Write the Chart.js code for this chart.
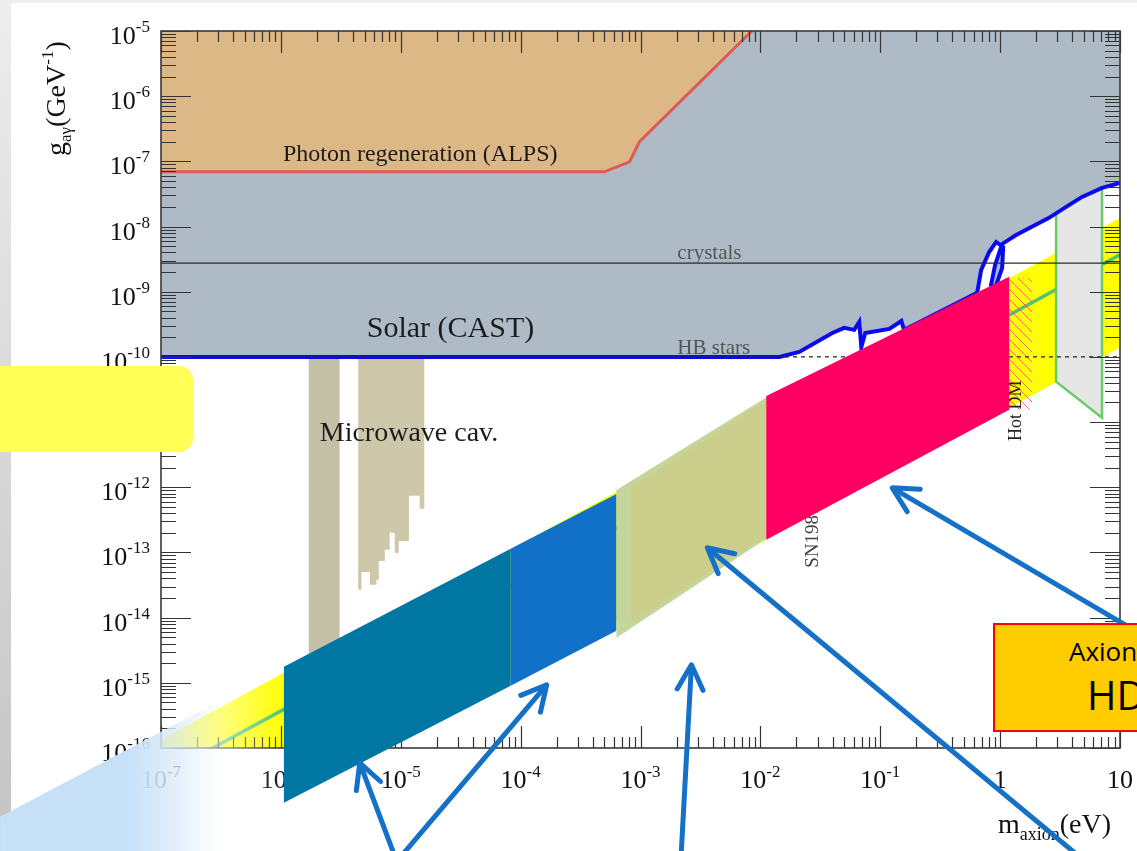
<!DOCTYPE html>
<html>
<head>
<meta charset="utf-8">
<title>Axion coupling limits</title>
<script src="https://cdn.jsdelivr.net/npm/chart.js@4.4.1/dist/chart.umd.min.js"></script>
<style>
  html, body { margin: 0; padding: 0; background: #fff; overflow: hidden; }
  #slide { position: relative; width: 1137px; height: 851px; overflow: hidden; background: #fff; }
  #edgeTop { position: absolute; left: 0; top: 0; width: 1137px; height: 3px; background: #efefef; }
  #edgeLeft { position: absolute; left: 0; top: 0; width: 11px; height: 851px; background: linear-gradient(#ededed, #c4c4c4); }
  canvas { position: absolute; left: 0; top: 0; }
  #noteBox { position: absolute; left: -20px; top: 366px; width: 213px; height: 86px; background: #ffff55; border-radius: 14px; }
  #axionBox { position: absolute; left: 993px; top: 623px; width: 240px; height: 105px; background: #ffcc00; border: 2px solid #ff0000;
              font-family: "Open Sans", sans-serif; color: #000; line-height: 1; }
  #axionBox span { position: absolute; white-space: nowrap; }
  #axionBox .l1 { left: 74px; top: 13px; font-size: 26px; }
  #axionBox .l2 { left: 92px; top: 50px; font-size: 40px; }
</style>
</head>
<body>
<div id="slide">
  <div id="edgeTop"></div>
  <div id="edgeLeft"></div>
  <canvas id="plot" width="1137" height="851"></canvas>
  <canvas id="overlay" width="1137" height="851"></canvas>
  <div id="noteBox"></div>
  <div id="axionBox"><span class="l1">Axion</span><span class="l2">HD</span></div>
</div>
<script>
// ---------- axes ----------
const massMin = 1e-7, massMax = 10;          // m_axion (eV)
const couplingMin = 1e-16, couplingMax = 1e-5; // g_a-gamma (GeV^-1)
const massTickValues = [1e-7, 1e-6, 1e-5, 1e-4, 1e-3, 1e-2, 1e-1, 1, 10];
const massTickLabels = ['10^-7', '10^-6', '10^-5', '10^-4', '10^-3', '10^-2', '10^-1', '1', '10'];
const couplingTickValues = [1e-5, 1e-6, 1e-7, 1e-8, 1e-9, 1e-10, 1e-11, 1e-12, 1e-13, 1e-14, 1e-15, 1e-16];
const couplingTickLabels = ['10^-5', '10^-6', '10^-7', '10^-8', '10^-9', '10^-10', '10^-11', '10^-12', '10^-13', '10^-14', '10^-15', '10^-16'];

// ---------- exclusion regions ----------
// photon regeneration (ALPS) lower edge
const alpsMass = [1e-7, 5.0e-4, 8.1e-4, 9.8e-4, 8.5e-3];
const alpsCoupling = [6.9e-8, 6.9e-8, 9.8e-8, 2.0e-7, 1e-5];

// solar (CAST) lower edge
const castMass = [1e-7, 1.44e-2, 2.11e-2, 3.98e-2, 5.0e-2, 6.07e-2, 6.68e-2, 6.95e-2, 7.5e-2, 0.119, 0.15, 0.158, 0.192,
                  0.643, 0.695, 0.81, 0.926, 1.06, 1.04, 0.908, 0.84, 0.908, 1.04, 1.36, 2.56, 3.55, 4.82, 7.08, 10];
const castCoupling = [1e-10, 1e-10, 1.19e-10, 2.33e-10, 2.79e-10, 2.6e-10, 3.44e-10, 1.42e-10, 2.33e-10, 2.69e-10, 3.56e-10, 2.6e-10, 3.1e-10,
                      9.6e-10, 2.16e-9, 4.07e-9, 5.8e-9, 4.87e-9, 2.32e-9, 1.14e-9, 1.27e-9, 2.58e-9, 5.41e-9, 7.43e-9, 1.36e-8, 2.0e-8, 2.85e-8, 3.91e-8, 4.67e-8];

// axion model band and KSVZ line
const bandMass = [1e-7, 10];
const bandUpper = [1.35e-16, 1.35e-8];
const bandLower = [1.4e-18, 1.4e-10];
const ksvzMass = [1e-7, 10];
const ksvzCoupling = [3.7e-17, 3.7e-9];

// microwave cavities (stepped lower edges, top at 1e-10)
const cav1Mass = [1.7e-6, 3.1e-6];
const cav1Low = [1e-15, 1e-15];
const cav2Mass = [4.41e-6, 4.70e-6, 5.52e-6, 6.27e-6, 6.56e-6, 7.36e-6, 8.09e-6, 8.91e-6, 9.62e-6, 1.17e-5, 1.44e-5, 1.58e-5];
const cav2Low = [2.67e-14, 5.0e-14, 3.2e-14, 3.8e-14, 7.4e-14, 1.1e-13, 2.0e-13, 9.9e-14, 1.5e-13, 7.4e-13, 4.7e-13, 4.7e-13];
const cavTop = 1e-10;

// telescope region and hot dark matter
const teleMass = [2.93, 2.93, 7.08, 7.08];
const teleCoupling = [1.6e-8, 4.17e-11, 1.17e-11, 3.91e-8];
const hotMass = [1.19, 1.85, 1.85, 1.19];
const hotCoupling = [1.62e-9, 1.62e-9, 1.55e-11, 1.55e-11];

// horizontal limits
const crystalsMass = [1e-7, 10];
const crystalsCoupling = [2.75e-9, 2.75e-9];
const hbMass = [1e-7, 10];
const hbCoupling = [1e-10, 1e-10];

// in-plot labels (anchored in data space)
const labelNotes = [
  { text: 'Photon regeneration (ALPS)', mass: 1.04e-6, coupling: 1.0e-7, size: 24, color: '#1c1c1c' },
  { text: 'Solar (CAST)', mass: 5.2e-6, coupling: 2.0e-10, size: 30, color: '#1c1c1c' },
  { text: 'Microwave cav.', mass: 2.11e-6, coupling: 5.15e-12, size: 28, color: '#1c1c1c' },
  { text: 'crystals', mass: 2.03e-3, coupling: 3.18e-9, size: 21, color: '#555' },
  { text: 'HB stars', mass: 2.03e-3, coupling: 1.11e-10, size: 21, color: '#555' },
  { text: 'Hot DM', mass: 1.5, coupling: 5.15e-12, size: 18, color: '#222', rotate: true },
  { text: 'SN1987', mass: 3.04e-2, coupling: 5.8e-14, size: 19, color: '#444', rotate: true }
];

// ---------- slide overlays (same data space) ----------
const fadeMass = [4.55e-9, 1.06e-6, 1.06e-6, 4.55e-9];
const fadeCoupling = [8.8e-18, 1.76e-15, 1.2e-18, 1.2e-18];
const tealMass = [1.06e-6, 8.26e-5, 8.26e-5, 1.06e-6];
const tealCoupling = [1.76e-15, 1.14e-13, 9.0e-16, 1.45e-17];
const blueMass = [8.26e-5, 6.3e-4, 6.3e-4, 8.26e-5];
const blueCoupling = [1.14e-13, 7.9e-13, 6.3e-15, 9.0e-16];
const oliveMass = [6.3e-4, 1.14e-2, 1.14e-2, 6.3e-4];
const oliveCoupling = [9.1e-13, 2.44e-11, 1.67e-13, 4.9e-15];
const oliveInnerMass = [8.41e-4, 1.14e-2, 1.14e-2, 8.41e-4];
const oliveInnerCoupling = [1.01e-12, 2.19e-11, 1.86e-13, 8.3e-15];
const pinkMass = [1.12e-2, 1.19, 1.19, 1.12e-2];
const pinkCoupling = [2.52e-11, 1.69e-9, 1.54e-11, 1.56e-13];

const arrowTailMass = [9.82e-6, 8.09e-6, 2.15e-3, 6.19, 21.1];
const arrowTailCoupling = [1.36e-18, 1.36e-18, 1.36e-18, 1.36e-18, 3.83e-15];
const arrowTipMass = [4.55e-6, 1.65e-4, 2.66e-3, 3.61e-3, 0.126];
const arrowTipCoupling = [5.93e-17, 9.31e-16, 1.89e-15, 1.18e-13, 9.8e-13];

// ---------- helpers ----------
const serif = '"Liberation Serif", "Times New Roman", serif';
const pts = (xs, ys) => xs.map((x, i) => ({ x: x, y: ys[i] }));

function poly(label, data, color) {
  return { label, data, fill: 'shape', backgroundColor: color, borderColor: 'transparent', borderWidth: 0, pointRadius: 0, tension: 0 };
}
function curve(label, data, color, width, extra) {
  return Object.assign({ label, data, fill: false, borderColor: color, borderWidth: width, pointRadius: 0, tension: 0 }, extra || {});
}
// first in list is painted first
function layered(list) {
  list.forEach((ds, i) => { ds.order = list.length - i; });
  return list;
}

function hatchPattern() {
  const c = document.createElement('canvas');
  c.width = 10; c.height = 10;
  const g = c.getContext('2d');
  g.strokeStyle = 'rgba(240,70,70,0.8)';
  g.lineWidth = 1;
  g.beginPath();
  g.moveTo(-2, -2); g.lineTo(12, 12);
  g.stroke();
  return g.createPattern(c, 'repeat');
}

function drawPower(ctx, label, x, y, align, baseSize, expSize, rise) {
  const parts = label.split('^');
  ctx.font = baseSize + 'px ' + serif;
  const wb = ctx.measureText(parts[0]).width;
  let we = 0;
  if (parts[1]) { ctx.font = expSize + 'px ' + serif; we = ctx.measureText(parts[1]).width; }
  const total = wb + we;
  const x0 = align === 'right' ? x - total : (align === 'center' ? x - total / 2 : x);
  ctx.textAlign = 'left';
  ctx.textBaseline = 'alphabetic';
  ctx.font = baseSize + 'px ' + serif;
  ctx.fillText(parts[0], x0, y);
  if (parts[1]) { ctx.font = expSize + 'px ' + serif; ctx.fillText(parts[1], x0 + wb, y - rise); }
}

function drawRun(ctx, pieces) {
  let cx = 0;
  pieces.forEach(p => {
    ctx.font = p.size + 'px ' + serif;
    ctx.fillText(p.t, cx, p.dy || 0);
    cx += ctx.measureText(p.t).width;
  });
}

// frame, inward ticks, labels and titles painted over the filled regions
const frameAndText = {
  id: 'frameAndText',
  afterDatasetsDraw(chart) {
    const ctx = chart.ctx, a = chart.chartArea, sx = chart.scales.x, sy = chart.scales.y;
    ctx.save();
    ctx.strokeStyle = '#333';
    ctx.lineWidth = 1.2;
    ctx.beginPath();
    for (let d = -7; d <= 1; d++) {
      for (let k = 1; k <= 9; k++) {
        const v = k * Math.pow(10, d);
        if (v > massMax * 1.0001) break;
        const px = Math.round(sx.getPixelForValue(v)) + 0.5;
        const len = k === 1 ? 22 : 11;
        ctx.moveTo(px, a.bottom); ctx.lineTo(px, a.bottom - len);
        ctx.moveTo(px, a.top); ctx.lineTo(px, a.top + len);
      }
    }
    for (let d = -16; d <= -5; d++) {
      for (let k = 1; k <= 9; k++) {
        const v = k * Math.pow(10, d);
        if (v > couplingMax * 1.0001) break;
        const py = Math.round(sy.getPixelForValue(v)) + 0.5;
        const len = k === 1 ? 30 : 15;
        ctx.moveTo(a.left, py); ctx.lineTo(a.left + len, py);
        ctx.moveTo(a.right, py); ctx.lineTo(a.right - len, py);
      }
    }
    ctx.stroke();
    ctx.lineWidth = 1.6;
    ctx.strokeStyle = '#3a3a3a';
    ctx.strokeRect(a.left, a.top, a.right - a.left, a.bottom - a.top);

    // tick labels
    ctx.fillStyle = '#111';
    massTickValues.forEach((v, i) => {
      drawPower(ctx, massTickLabels[i], sx.getPixelForValue(v), a.bottom + 40, 'center', 26, 17, 11);
    });
    couplingTickValues.forEach((v, i) => {
      drawPower(ctx, couplingTickLabels[i], a.left - 11, sy.getPixelForValue(v) + 13, 'right', 26, 17, 12);
    });

    // axis titles
    ctx.save();
    ctx.translate(65, 156);
    ctx.rotate(-Math.PI / 2);
    drawRun(ctx, [{ t: 'g', size: 28 }, { t: 'a\u03b3', size: 17, dy: 6 }, { t: '(GeV', size: 28 }, { t: '-1', size: 17, dy: -12 }, { t: ')', size: 28 }]);
    ctx.restore();
    ctx.save();
    ctx.translate(998, 833);
    drawRun(ctx, [{ t: 'm', size: 28 }, { t: 'axion', size: 18, dy: 7 }, { t: '(eV)', size: 28 }]);
    ctx.restore();

    // region labels
    labelNotes.forEach(n => {
      const px = sx.getPixelForValue(n.mass), py = sy.getPixelForValue(n.coupling);
      ctx.save();
      ctx.fillStyle = n.color;
      ctx.font = n.size + 'px ' + serif;
      ctx.textAlign = 'left';
      ctx.textBaseline = 'alphabetic';
      ctx.translate(px, py);
      if (n.rotate) ctx.rotate(-Math.PI / 2);
      ctx.fillText(n.text, 0, 0);
      ctx.restore();
    });
    ctx.restore();
  }
};

const arrowHeads = {
  id: 'arrowHeads',
  afterDatasetsDraw(chart) {
    const ctx = chart.ctx;
    chart.data.datasets.forEach((ds, i) => {
      if (!ds.arrow) return;
      const p = chart.getDatasetMeta(i).data;
      const tail = p[0], tip = p[1];
      const ang = Math.atan2(tail.y - tip.y, tail.x - tip.x);
      const len = 28, spread = 0.48;
      ctx.save();
      ctx.strokeStyle = ds.borderColor;
      ctx.lineWidth = ds.borderWidth;
      ctx.lineCap = 'round';
      ctx.lineJoin = 'round';
      ctx.beginPath();
      ctx.moveTo(tip.x + len * Math.cos(ang + spread), tip.y + len * Math.sin(ang + spread));
      ctx.lineTo(tip.x, tip.y);
      ctx.lineTo(tip.x + len * Math.cos(ang - spread), tip.y + len * Math.sin(ang - spread));
      ctx.stroke();
      ctx.restore();
    });
  }
};

// ---------- main plot ----------
const W = 1137, H = 851;
const corner = (x, y) => ({ x: x, y: y });

const plotDatasets = layered([
  poly('CAST region', [corner(massMin, couplingMax)].concat(pts(castMass, castCoupling), [corner(massMax, couplingMax)]), '#aebbc7'),
  poly('ALPS region', [corner(massMin, couplingMax)].concat(pts(alpsMass, alpsCoupling)), '#dcb887'),
  poly('Axion models', pts(bandMass, bandUpper).concat(pts(bandMass, bandLower).reverse()), '#ffff00'),
  curve('Cavity 1', pts(cav1Mass, cav1Low), 'transparent', 0, { fill: { value: cavTop }, backgroundColor: '#c4c0a8', stepped: 'before' }),
  curve('Cavity 2', pts(cav2Mass, cav2Low), 'transparent', 0, { fill: { value: cavTop }, backgroundColor: '#cdc8aa', stepped: 'before' }),
  curve('KSVZ', pts(ksvzMass, ksvzCoupling), '#4ec56f', 3.5),
  poly('Hot DM', pts(hotMass, hotCoupling), hatchPattern()),
  curve('Telescopes', pts(teleMass, teleCoupling), '#66cc66', 2.5, { fill: 'shape', backgroundColor: '#e6e6e6' }),
  curve('CAST limit', pts(castMass, castCoupling), '#0a0af0', 4),
  curve('ALPS limit', pts(alpsMass, alpsCoupling), '#df5a55', 3),
  curve('crystals', pts(crystalsMass, crystalsCoupling), '#2a2a2a', 1.3),
  curve('HB stars', pts(hbMass, hbCoupling), '#222', 1.4, { borderDash: [4, 4] })
]);

const commonOptions = {
  responsive: false,
  animation: false,
  events: [],
  plugins: { legend: { display: false }, tooltip: { enabled: false } }
};

const plot = new Chart(document.getElementById('plot'), {
  type: 'line',
  data: { datasets: plotDatasets },
  options: Object.assign({}, commonOptions, {
    layout: { padding: { left: 161, top: 31, right: 17, bottom: 103 } },
    scales: {
      x: { type: 'logarithmic', display: false, min: massMin, max: massMax },
      y: { type: 'logarithmic', display: false, min: couplingMin, max: couplingMax }
    }
  }),
  plugins: [frameAndText]
});

// ---------- overlay canvas with the slide shapes, mapped to the same data space ----------
const area = plot.chartArea;
const lxPerPx = Math.log10(massMax / massMin) / (area.right - area.left);
const lyPerPx = Math.log10(couplingMax / couplingMin) / (area.bottom - area.top);

const fadeFill = (c) => {
  const ch = c.chart, sx = ch.scales && ch.scales.x;
  if (!sx || !ch.chartArea) return 'rgba(198,224,248,1)';
  const x0 = sx.getPixelForValue(fadeMass[0]), x1 = sx.getPixelForValue(fadeMass[1]);
  const g = ch.ctx.createLinearGradient(x0, 0, x1, 0);
  g.addColorStop(0, 'rgba(198,224,248,1)');
  g.addColorStop(0.45, 'rgba(198,224,248,1)');
  g.addColorStop(0.62, 'rgba(220,235,250,0.8)');
  g.addColorStop(0.8, 'rgba(255,255,255,0.45)');
  g.addColorStop(1, 'rgba(255,255,255,0)');
  return g;
};

const overlayDatasets = layered([
  poly('fade', pts(fadeMass, fadeCoupling), fadeFill),
  poly('teal', pts(tealMass, tealCoupling), '#0077a2'),
  poly('blue', pts(blueMass, blueCoupling), '#1170c8'),
  poly('olive edge', pts(oliveMass, oliveCoupling), '#c4d69b'),
  poly('olive', pts(oliveInnerMass, oliveInnerCoupling), '#cbcf8b'),
  poly('pink', pts(pinkMass, pinkCoupling), '#ff0062')
].concat(arrowTipMass.map((m, i) => curve('arrow ' + (i + 1),
  [corner(arrowTailMass[i], arrowTailCoupling[i]), corner(m, arrowTipCoupling[i])], '#1570c8', 5, { arrow: true }))));

new Chart(document.getElementById('overlay'), {
  type: 'line',
  data: { datasets: overlayDatasets },
  options: Object.assign({}, commonOptions, {
    layout: { padding: 0 },
    scales: {
      x: { type: 'logarithmic', display: false,
           min: massMin * Math.pow(10, -area.left * lxPerPx), max: massMax * Math.pow(10, (W - area.right) * lxPerPx) },
      y: { type: 'logarithmic', display: false,
           min: couplingMin * Math.pow(10, -(H - area.bottom) * lyPerPx), max: couplingMax * Math.pow(10, area.top * lyPerPx) }
    }
  }),
  plugins: [arrowHeads]
});
</script>
</body>
</html>
